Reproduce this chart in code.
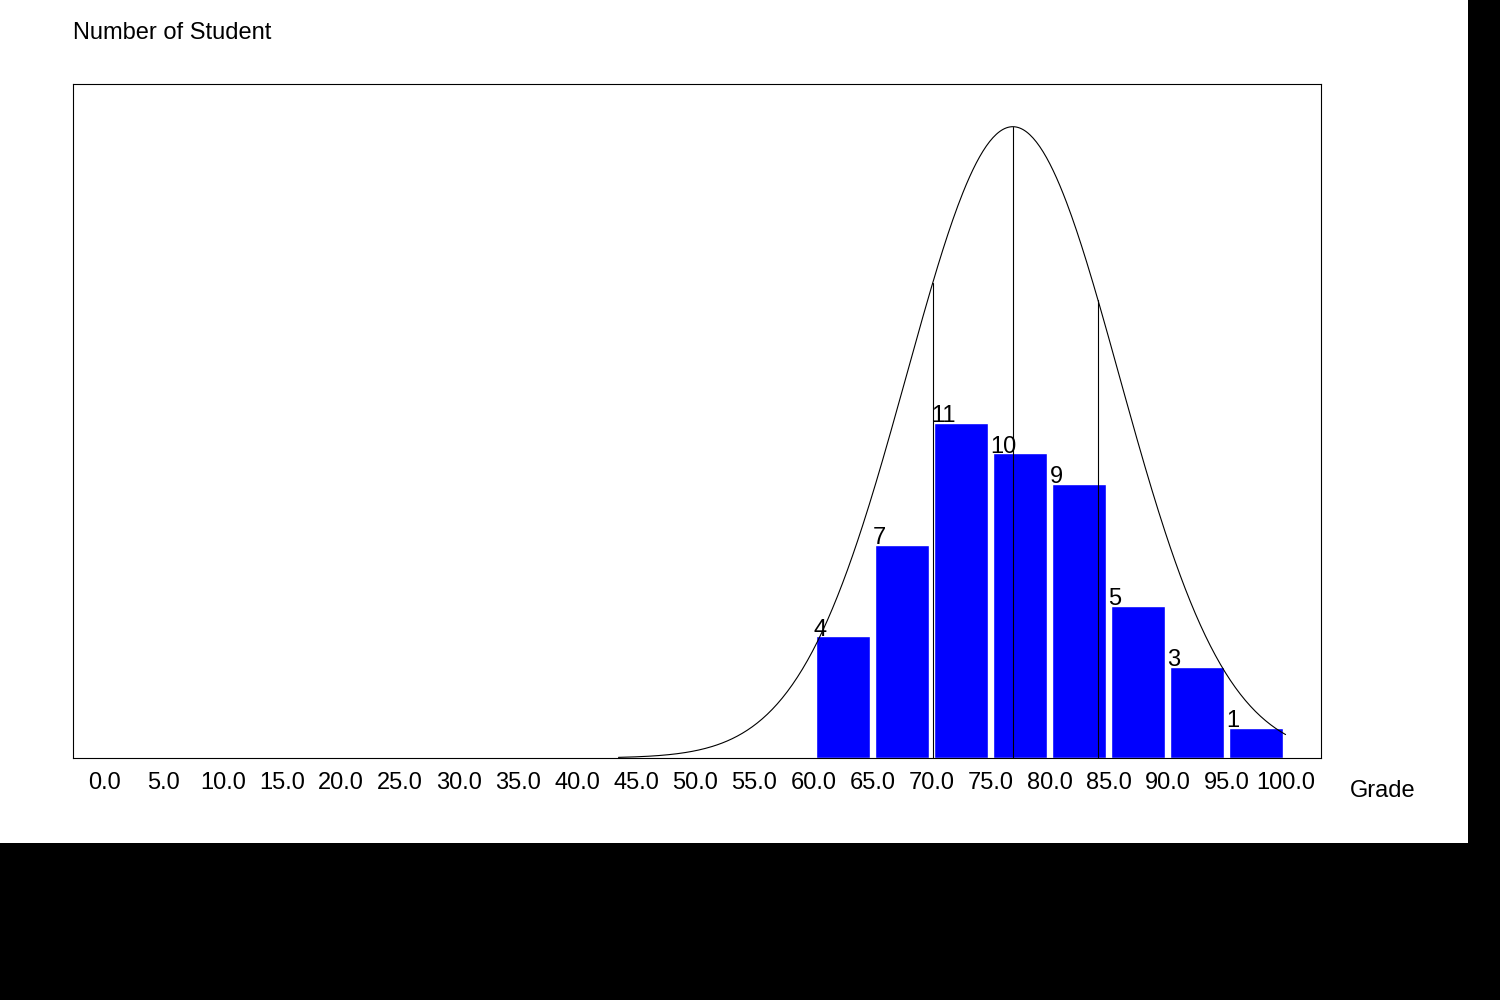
import numpy as np, pandas as pd, seaborn as sns, matplotlib
matplotlib.use("Agg")
import matplotlib.pyplot as plt
from matplotlib.patches import Rectangle

bin_starts = [60, 65, 70, 75, 80, 85, 90, 95]
counts = [4, 7, 11, 10, 9, 5, 3, 1]
tick_values = [0, 5, 10, 15, 20, 25, 30, 35, 40, 45, 50, 55, 60, 65, 70, 75, 80, 85, 90, 95, 100]
mean_grade = 76.9
sd_grade = 9.0
peak_height = 20.7
marker_grades = [70.1, 76.9, 84.1]

sns.set_style("white")
plt.rcParams['font.family'] = ['Liberation Sans', 'DejaVu Sans']
plt.rcParams['text.color'] = 'black'
plt.rcParams['xtick.color'] = 'black'

fig = plt.figure(figsize=(15, 10), dpi=100, facecolor='black')
fig.patches.append(Rectangle((0, 0.157), 1468/1500, 0.843, transform=fig.transFigure,
                             facecolor='white', edgecolor='none', zorder=-10))
ax = fig.add_axes([73/1500, 0.242, 1248/1500, 0.674])
ax.set_facecolor('white')

df = pd.DataFrame({"mid": [b + 2.5 for b in bin_starts], "n": counts})
sns.barplot(data=df, x="mid", y="n", native_scale=True, color="#0000ff", saturation=1, width=0.92, ax=ax)
for b, c in zip(bin_starts, counts):
    ax.text(b, c - 0.15, str(c), fontsize=17, ha='left', va='bottom')

xs = np.linspace(43.5, 100, 400)
curve = peak_height * np.exp(-0.5 * ((xs - mean_grade) / sd_grade) ** 2)
sns.lineplot(x=xs, y=curve, color='black', linewidth=0.8, ax=ax)
for g in marker_grades:
    h = peak_height * np.exp(-0.5 * ((g - mean_grade) / sd_grade) ** 2)
    ax.plot([g, g], [0, h], color='black', linewidth=0.8)

ax.set_xlim(-2.7, 103.0)
ax.set_ylim(0, 22.1)
ax.set_xticks(tick_values)
ax.set_xticklabels([f"{v:.1f}" for v in tick_values], fontsize=17)
ax.set_yticks([])
ax.tick_params(axis='x', length=0, pad=10)
ax.set_xlabel(""); ax.set_ylabel("")
for s in ax.spines.values():
    s.set_visible(True); s.set_color('black'); s.set_linewidth(0.8)
fig.text(1350/1500, 1 - 791/1000, "Grade", fontsize=17, va='center')
fig.text(73/1500, 1 - 33/1000, "Number of Student", fontsize=17, va='center')
fig.savefig("out.png", dpi=100, facecolor='black')
